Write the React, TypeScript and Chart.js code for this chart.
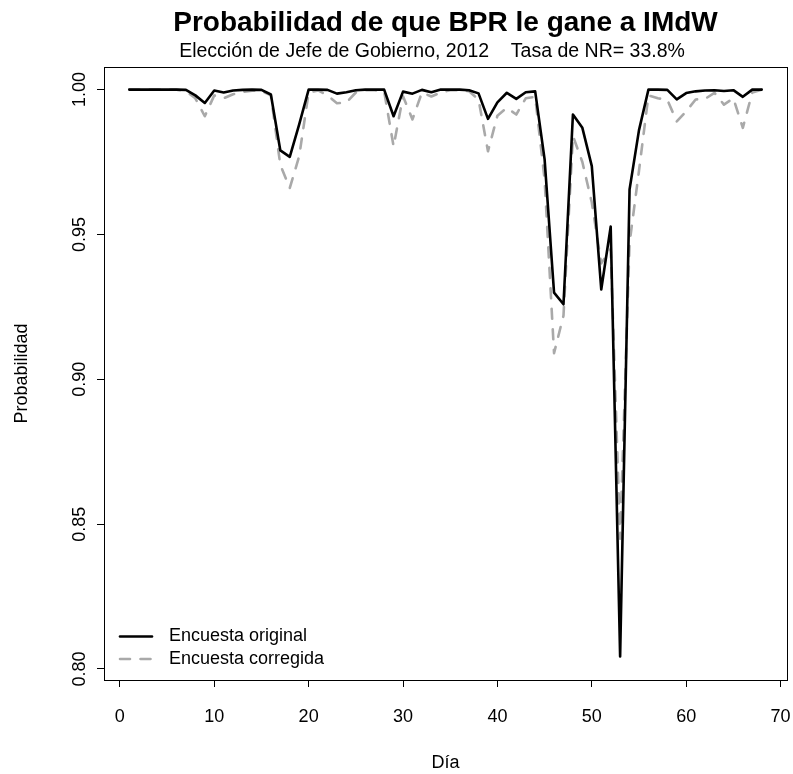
import React, { useEffect, useRef } from "react";
import { Chart, registerables } from "chart.js";

Chart.register(...registerables);

const FONT = "'Liberation Sans', Arial, Helvetica, sans-serif";

const days = [
  1, 2, 3, 4, 5, 6, 7, 8, 9, 10, 11, 12, 13, 14, 15, 16, 17, 18, 19, 20,
  21, 22, 23, 24, 25, 26, 27, 28, 29, 30, 31, 32, 33, 34, 35, 36, 37, 38, 39, 40,
  41, 42, 43, 44, 45, 46, 47, 48, 49, 50, 51, 52, 53, 54, 55, 56, 57, 58, 59, 60,
  61, 62, 63, 64, 65, 66, 67, 68,
];

const original = [
  1.0, 1.0, 1.0, 1.0, 1.0, 1.0, 0.9999, 0.998, 0.9954, 0.9997,
  0.999, 0.9997, 0.9999, 1.0, 0.9999, 0.9983, 0.979, 0.9768, 0.988, 1.0,
  1.0, 0.9999, 0.9986, 0.9991, 0.9998, 1.0, 1.0, 1.0, 0.9908, 0.9993,
  0.9986, 0.9999, 0.9991, 1.0, 1.0, 1.0, 0.9998, 0.9987, 0.9899, 0.9956,
  0.9989, 0.9968, 0.9991, 0.9994, 0.9759, 0.9299, 0.9259, 0.9914, 0.9868, 0.9736,
  0.931, 0.9527, 0.8043, 0.9655, 0.986, 1.0, 1.0, 0.9999, 0.9966, 0.9988,
  0.9994, 0.9997, 0.9998, 0.9995, 0.9998, 0.9975, 1.0, 1.0,
];

const corrected = [
  1.0, 1.0, 1.0, 1.0, 1.0, 1.0, 0.9995, 0.997, 0.9908, 0.998,
  0.997, 0.9984, 0.9992, 0.9996, 0.9996, 0.998, 0.974, 0.966, 0.977, 0.999,
  0.9997, 0.998, 0.9953, 0.9955, 0.999, 0.9998, 0.9998, 0.9994, 0.9804, 0.9977,
  0.9897, 0.999, 0.9976, 0.999, 0.9998, 0.9998, 0.9994, 0.9966, 0.9787, 0.991,
  0.9937, 0.9914, 0.997, 0.9975, 0.969, 0.909, 0.922, 0.984, 0.975, 0.961,
  0.94, 0.945, 0.845, 0.947, 0.972, 0.998, 0.997, 0.9965, 0.989, 0.9925,
  0.9966, 0.9968, 0.9989, 0.9948, 0.997, 0.9868, 0.999, 1.0,
];

const xTicks = [0, 10, 20, 30, 40, 50, 60, 70];
const yTicks = [0.8, 0.85, 0.9, 0.95, 1.0];
const yTickLabels = ["0.80", "0.85", "0.90", "0.95", "1.00"];
const seriesNames = ["Encuesta original", "Encuesta corregida"];
const titleText = "Probabilidad de que BPR le gane a IMdW";
const subtitleText = "Elección de Jefe de Gobierno, 2012    Tasa de NR= 33.8%";
const xTitle = "Día";
const yTitle = "Probabilidad";

const SOLID_COLOR = "#000000";
const DASH_COLOR = "#a9a9a9";
const DASH = [10, 10.5];
const LINE_W = 2.6;
const TXT = 18;

const rPlugin = {
  id: "rstyle",
  afterDraw(chart: any) {
    const { ctx, chartArea } = chart;
    const { left, right, top, bottom } = chartArea;
    const y = chart.scales.y;
    ctx.save();
    ctx.strokeStyle = "#000";
    ctx.lineWidth = 1;
    ctx.setLineDash([]);
    ctx.strokeRect(left + 0.5, top + 0.5, right - left, bottom - top);

    ctx.fillStyle = "#000";
    ctx.textAlign = "center";
    ctx.textBaseline = "middle";
    ctx.font = `bold 28px ${FONT}`;
    ctx.fillText(titleText, (left + right) / 2, 23);
    ctx.font = `19.5px ${FONT}`;
    ctx.fillText(subtitleText, 432, 52);

    ctx.font = `${TXT}px ${FONT}`;
    yTicks.forEach((v, i) => {
      const py = y.getPixelForValue(v);
      ctx.save();
      ctx.translate(80, py);
      ctx.rotate(-Math.PI / 2);
      ctx.textAlign = "center";
      ctx.textBaseline = "middle";
      ctx.fillText(yTickLabels[i], 0, 0);
      ctx.restore();
    });

    const rows = [
      { y: 636.5, color: SOLID_COLOR, dash: [] as number[] },
      { y: 659, color: DASH_COLOR, dash: DASH },
    ];
    rows.forEach((r, i) => {
      ctx.beginPath();
      ctx.strokeStyle = r.color;
      ctx.lineWidth = LINE_W;
      ctx.lineCap = "round";
      ctx.setLineDash(r.dash);
      ctx.moveTo(left + 16, r.y);
      ctx.lineTo(left + 48, r.y);
      ctx.stroke();
      ctx.setLineDash([]);
      ctx.fillStyle = "#000";
      ctx.textAlign = "left";
      ctx.textBaseline = "middle";
      ctx.font = `${TXT}px ${FONT}`;
      ctx.fillText(seriesNames[i], left + 65, r.y);
    });
    ctx.restore();
  },
};

export default function App() {
  const ref = useRef<HTMLCanvasElement | null>(null);

  useEffect(() => {
    if (!ref.current) return;
    const chart = new Chart(ref.current, {
      type: "line",
      data: {
        datasets: [
          {
            label: seriesNames[0],
            data: days.map((d, i) => ({ x: d, y: original[i] })),
            borderColor: SOLID_COLOR,
            borderWidth: LINE_W,
            pointRadius: 0,
            tension: 0,
            fill: false,
            borderJoinStyle: "round",
            borderCapStyle: "round",
          },
          {
            label: seriesNames[1],
            data: days.map((d, i) => ({ x: d, y: corrected[i] })),
            borderColor: DASH_COLOR,
            borderWidth: LINE_W,
            borderDash: DASH,
            pointRadius: 0,
            tension: 0,
            fill: false,
            borderJoinStyle: "round",
            borderCapStyle: "round",
          },
        ],
      },
      options: {
        animation: false,
        responsive: false,
        maintainAspectRatio: false,
        layout: { padding: { top: 67, right: 6, left: 0, bottom: 0 } },
        plugins: {
          legend: { display: false },
          tooltip: { enabled: false },
          title: { display: false },
        },
        scales: {
          x: {
            type: "linear",
            min: -1.68,
            max: 70.68,
            afterBuildTicks: (s: any) => {
              s.ticks = xTicks.map((v) => ({ value: v }));
            },
            afterFit: (s: any) => {
              s.height = 94;
              s.paddingLeft = 0;
              s.paddingRight = 0;
            },
            grid: {
              drawOnChartArea: false,
              drawTicks: true,
              tickLength: 7,
              color: "#000",
              lineWidth: 1,
            },
            border: { display: false },
            ticks: {
              color: "#000",
              font: { family: FONT, size: TXT },
              padding: 19,
              autoSkip: false,
              maxRotation: 0,
              minRotation: 0,
              callback: (v: any) => String(v),
            },
            title: {
              display: true,
              text: xTitle,
              color: "#000",
              font: { family: FONT, size: TXT },
              padding: { top: 0, bottom: 0 },
            },
          },
          y: {
            type: "linear",
            min: 0.7962,
            max: 1.0078,
            afterBuildTicks: (s: any) => {
              s.ticks = yTicks.map((v) => ({ value: v }));
            },
            afterFit: (s: any) => {
              s.width = 104;
              s.paddingTop = 0;
              s.paddingBottom = 0;
            },
            grid: {
              drawOnChartArea: false,
              drawTicks: true,
              tickLength: 7,
              color: "#000",
              lineWidth: 1,
            },
            border: { display: false },
            ticks: { display: false },
            title: {
              display: true,
              text: yTitle,
              color: "#000",
              font: { family: FONT, size: TXT },
              padding: { top: 11, bottom: 0 },
            },
          },
        },
      },
      plugins: [rPlugin],
    } as any);
    return () => chart.destroy();
  }, []);

  return (
    <div style={{ position: "absolute", left: 0, top: 0, width: 793, height: 774, background: "#fff" }}>
      <canvas ref={ref} width={793} height={774} style={{ width: 793, height: 774, display: "block" }} />
    </div>
  );
}
